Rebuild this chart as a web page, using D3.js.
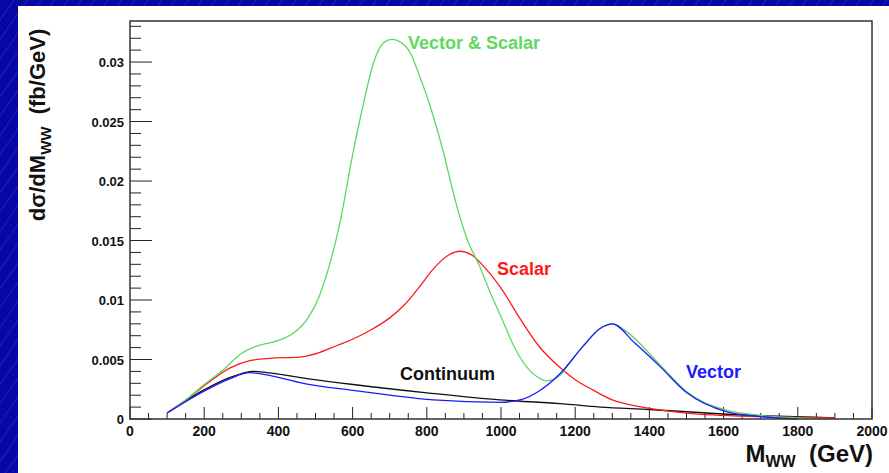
<!DOCTYPE html>
<html>
<head>
<meta charset="utf-8">
<script src="https://cdn.jsdelivr.net/npm/d3@7"></script>
<style>
  body { margin: 0; overflow: hidden; }
  text { font-family: "Liberation Sans", Arial, sans-serif; font-weight: bold; }
</style>
</head>
<body>
<div id="chart"></div>
<script>
const width = 889;
const height = 473;

// series values (M_WW in GeV, dsigma/dM in fb/GeV)
const vectorScalarMass = [100, 150, 200, 250, 300, 340, 400, 440, 480, 510, 540, 566, 600, 630, 656, 683, 706, 728, 755, 782, 810, 845, 870, 890, 910, 943, 970, 1000, 1040, 1080, 1105, 1122, 1140, 1160, 1180, 1220, 1267, 1300, 1340, 1430, 1500, 1600, 1700, 1800, 1880];
const vectorScalarValues = [0.0005, 0.0016, 0.0029, 0.0041, 0.0055, 0.0061, 0.0066, 0.0072, 0.0085, 0.0103, 0.0132, 0.0165, 0.0222, 0.0266, 0.0299, 0.0316, 0.0319, 0.0317, 0.0308, 0.0287, 0.0262, 0.0224, 0.0192, 0.0169, 0.015, 0.0128, 0.0107, 0.0086, 0.0058, 0.0040, 0.0034, 0.0032, 0.0033, 0.0037, 0.0045, 0.0061, 0.0076, 0.008, 0.0073, 0.0045, 0.0023, 0.0008, 0.0003, 0.0001, 0.0];

const scalarMass = [100, 150, 200, 270, 323, 377, 458, 512, 560, 600, 650, 700, 740, 780, 820, 860, 889, 920, 960, 1000, 1050, 1100, 1160, 1200, 1250, 1300, 1380, 1500, 1700, 1900];
const scalarValues = [0.0005, 0.0016, 0.0028, 0.0043, 0.0049, 0.0051, 0.0052, 0.0056, 0.0062, 0.0067, 0.0075, 0.0085, 0.0096, 0.0111, 0.0127, 0.0138, 0.0141, 0.0138, 0.0126, 0.011, 0.0085, 0.0062, 0.0043, 0.0033, 0.0024, 0.0016, 0.001, 0.0005, 0.0002, 0.0001];

const vectorMass = [100, 197, 270, 323, 369, 467, 601, 700, 818, 997, 1051, 1105, 1159, 1221, 1267, 1300, 1360, 1429, 1501, 1609, 1700, 1800];
const vectorValues = [0.0005, 0.0023, 0.0034, 0.0039, 0.0037, 0.003, 0.0024, 0.002, 0.0016, 0.0014, 0.0016, 0.0024, 0.0038, 0.0061, 0.0076, 0.008, 0.0064, 0.0044, 0.0022, 0.0006, 0.0002, 0.0];

const continuumMass = [100, 197, 270, 333, 369, 477, 601, 800, 997, 1159, 1267, 1402, 1609, 1900];
const continuumValues = [0.0005, 0.0024, 0.0035, 0.004, 0.0039, 0.0034, 0.0029, 0.0022, 0.0016, 0.0013, 0.001, 0.0008, 0.0004, 0.0001];

const xTicks = [0, 200, 400, 600, 800, 1000, 1200, 1400, 1600, 1800, 2000];
const yTicks = [0, 0.005, 0.01, 0.015, 0.02, 0.025, 0.03];

const series = [
  { name: "Continuum", mass: continuumMass, values: continuumValues, color: "#111111", label: [400, 380] },
  { name: "Scalar", mass: scalarMass, values: scalarValues, color: "#ff1a1a", label: [497, 275] },
  { name: "Vector & Scalar", mass: vectorScalarMass, values: vectorScalarValues, color: "#5fd85f", label: [408, 49] },
  { name: "Vector", mass: vectorMass, values: vectorValues, color: "#1a1aff", label: [686, 378] }
];

// frame of the ROOT pad
const frame = { left: 130, right: 872, top: 21, bottom: 419 };

const x = d3.scaleLinear().domain([0, 2000]).range([frame.left, frame.right]);
const y = d3.scaleLinear().domain([0, 0.03345]).range([frame.bottom, frame.top]);

const svg = d3
  .select("#chart")
  .append("svg")
  .attr("width", width)
  .attr("height", height);

// hatched blue slide background
const defs = svg.append("defs");
const pattern = defs
  .append("pattern")
  .attr("id", "hatch")
  .attr("patternUnits", "userSpaceOnUse")
  .attr("width", 11)
  .attr("height", 11)
  .attr("patternTransform", "rotate(35)");
pattern.append("rect").attr("width", 11).attr("height", 11).attr("fill", "#0707a3");
pattern
  .append("line")
  .attr("x1", 0).attr("y1", 0).attr("x2", 0).attr("y2", 11)
  .attr("stroke", "#3b3bd2")
  .attr("stroke-width", 1);

svg.append("rect").attr("width", width).attr("height", height).attr("fill", "url(#hatch)");
svg.append("rect").attr("x", 18).attr("y", 6).attr("width", width - 18).attr("height", height - 6).attr("fill", "#ffffff");

// ticks //////////////////////////////
const axisG = svg.append("g").style("stroke", "#222").style("stroke-width", 1);

d3.range(0, 2001, 50).forEach(v => {
  const major = v % 200 === 0;
  axisG
    .append("line")
    .attr("x1", x(v)).attr("x2", x(v))
    .attr("y1", frame.bottom).attr("y2", frame.bottom - (major ? 12 : 6));
});

d3.range(0, 34).forEach(i => {
  const v = i * 0.001;
  const major = i % 5 === 0;
  axisG
    .append("line")
    .attr("x1", frame.left).attr("x2", frame.left + (major ? 22 : 11))
    .attr("y1", y(v)).attr("y2", y(v));
});

svg
  .selectAll(".xlab")
  .data(xTicks)
  .enter()
  .append("text")
  .attr("class", "xlab")
  .attr("x", d => x(d))
  .attr("y", 436)
  .attr("text-anchor", "middle")
  .style("font-size", "14px")
  .attr("fill", "#111")
  .text(d => d);

svg
  .selectAll(".ylab")
  .data(yTicks)
  .enter()
  .append("text")
  .attr("class", "ylab")
  .attr("x", 124)
  .attr("y", d => y(d) + 5)
  .attr("text-anchor", "end")
  .style("font-size", "13px")
  .attr("fill", "#111")
  .text(d => d);

// curves //////////////////////////////
const line = d3
  .line()
  .x(d => x(d[0]))
  .y(d => y(d[1]))
  .curve(d3.curveMonotoneX);

series.forEach(s => {
  svg
    .append("path")
    .datum(s.mass.map((m, i) => [m, s.values[i]]))
    .attr("d", line)
    .attr("fill", "none")
    .attr("stroke", s.color)
    .attr("stroke-width", 1.3);

  svg
    .append("text")
    .attr("x", s.label[0])
    .attr("y", s.label[1])
    .style("font-size", "18px")
    .attr("fill", s.color)
    .text(s.name);
});

// frame box
svg
  .append("rect")
  .attr("x", frame.left)
  .attr("y", frame.top)
  .attr("width", frame.right - frame.left)
  .attr("height", frame.bottom - frame.top)
  .attr("fill", "none")
  .attr("stroke", "#333")
  .attr("stroke-width", 1.5);

// axis titles
const xTitle = svg
  .append("text")
  .attr("x", 873)
  .attr("y", 462)
  .attr("text-anchor", "end")
  .style("font-size", "24px")
  .attr("fill", "#111");
xTitle.append("tspan").text("M");
xTitle.append("tspan").attr("dy", 5).style("font-size", "16px").text("WW");
xTitle.append("tspan").attr("dy", -5).text("\u00a0\u00a0(GeV)");

const yTitle = svg
  .append("text")
  .attr("transform", "translate(45,125) rotate(-90)")
  .attr("text-anchor", "middle")
  .style("font-size", "22px")
  .attr("fill", "#111");
yTitle.append("tspan").text("d\u03c3/dM");
yTitle.append("tspan").attr("dy", 6).style("font-size", "15px").text("WW");
yTitle.append("tspan").attr("dy", -6).text("\u00a0\u00a0(fb/GeV)");
</script>
</body>
</html>
